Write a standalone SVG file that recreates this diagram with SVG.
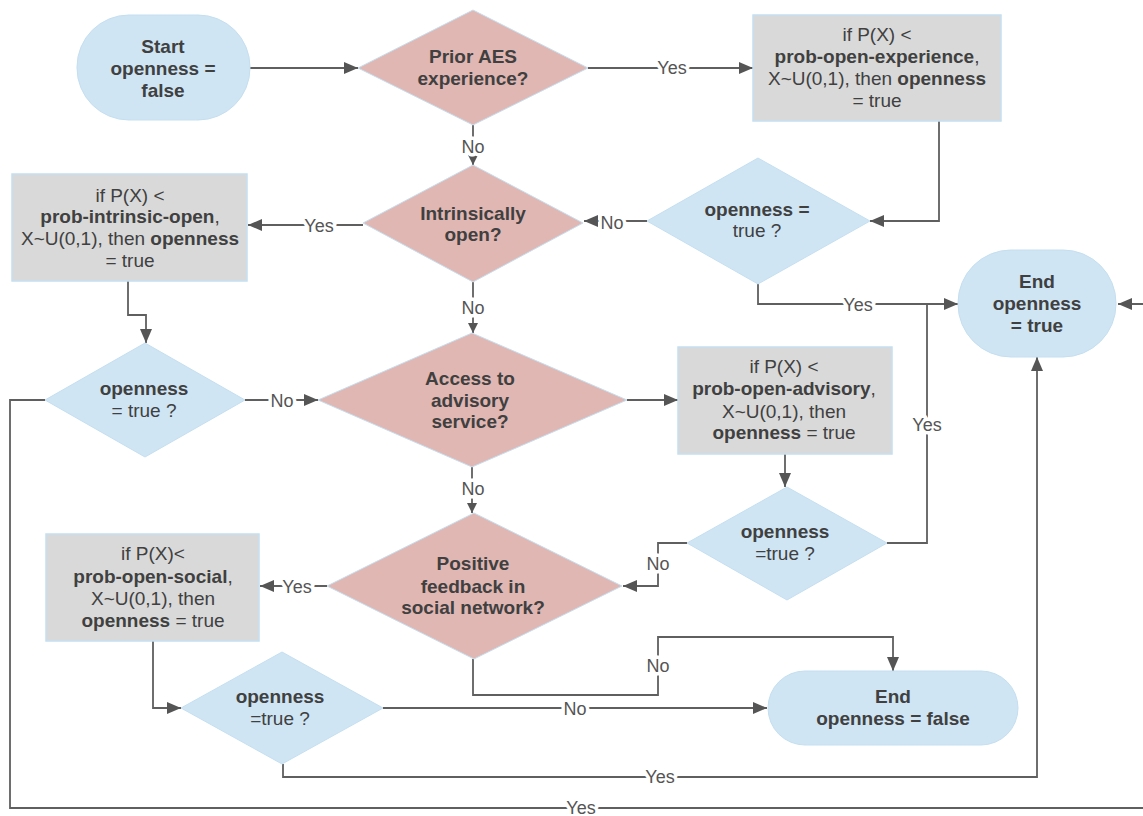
<svg xmlns="http://www.w3.org/2000/svg" width="1143" height="816" viewBox="0 0 1143 816">
<style>
.term{fill:#cfe5f4;stroke:#c4dff0;stroke-width:1}
.dec{fill:#e0b7b3;stroke:#c4dff0;stroke-width:1}
.chk{fill:#cfe5f4;stroke:#c4dff0;stroke-width:1}
.proc{fill:#d9d9d9;stroke:#c4dff0;stroke-width:1.5}
text{font-family:"Liberation Sans",Arial,sans-serif;fill:#404040}
.t{font-size:19px;text-anchor:middle}
.b{font-weight:bold}
.c{fill:none;stroke:#5f5f5f;stroke-width:1.8}
.lbl{font-size:18px;text-anchor:middle;fill:#555;stroke:#fff;stroke-width:7;paint-order:stroke;stroke-linejoin:round}
</style>
<defs>
<marker id="a" markerUnits="userSpaceOnUse" markerWidth="14" markerHeight="12" refX="14" refY="6" orient="auto"><path d="M0,0L14,6L0,12z" fill="#555"/></marker>
<marker id="s" markerUnits="userSpaceOnUse" markerWidth="10" markerHeight="10" refX="10" refY="5" orient="auto"><path d="M0,0L10,5L0,10z" fill="#555"/></marker>
</defs>
<g id="connectors">
<path class="c" d="M250,68H358" marker-end="url(#a)"/>
<path class="c" d="M588,68H753" marker-end="url(#a)"/>
<path class="c" d="M473,125V165" marker-end="url(#s)"/>
<path class="c" d="M939,121V221H870" marker-end="url(#a)"/>
<path class="c" d="M647,221H584" marker-end="url(#a)"/>
<path class="c" d="M363,225H248" marker-end="url(#a)"/>
<path class="c" d="M473,282V333" marker-end="url(#s)"/>
<path class="c" d="M128,281V315H146V343" marker-end="url(#a)"/>
<path class="c" d="M758,284V304H958" marker-end="url(#a)"/>
<path class="c" d="M887,543H927V304"/>
<path class="c" d="M245,400H318" marker-end="url(#a)"/>
<path class="c" d="M627,400H678" marker-end="url(#a)"/>
<path class="c" d="M785,454V487" marker-end="url(#a)"/>
<path class="c" d="M472,467V513" marker-end="url(#s)"/>
<path class="c" d="M687,543H658V586H623" marker-end="url(#a)"/>
<path class="c" d="M327,586H260" marker-end="url(#a)"/>
<path class="c" d="M473,659V695H658V637H893V671" marker-end="url(#a)"/>
<path class="c" d="M153,641V708H181" marker-end="url(#a)"/>
<path class="c" d="M383,708H767" marker-end="url(#a)"/>
<path class="c" d="M283,764V777H1037V357" marker-end="url(#a)"/>
<path class="c" d="M45,400H10V808H1165V304H1118" marker-end="url(#a)"/>
<text class="lbl" x="672" y="74">Yes</text>
<text class="lbl" x="473" y="153">No</text>
<text class="lbl" x="612" y="229">No</text>
<text class="lbl" x="319" y="232">Yes</text>
<text class="lbl" x="473" y="314">No</text>
<text class="lbl" x="282" y="407">No</text>
<text class="lbl" x="858" y="311">Yes</text>
<text class="lbl" x="927" y="431">Yes</text>
<text class="lbl" x="473" y="495">No</text>
<text class="lbl" x="658" y="570">No</text>
<text class="lbl" x="297" y="593">Yes</text>
<text class="lbl" x="658" y="672">No</text>
<text class="lbl" x="575" y="715">No</text>
<text class="lbl" x="660" y="783">Yes</text>
<text class="lbl" x="581" y="814">Yes</text>
</g>
<g id="start">
<rect class="term" x="77" y="15" width="173" height="105" rx="52"/>
<text class="t b"><tspan x="163" y="53">Start</tspan><tspan x="163" y="75">openness =</tspan><tspan x="163" y="97">false</tspan></text>
</g>
<g id="prior-aes">
<path class="dec" d="M473,10L588,68L473,125L358,68z"/>
<text class="t b"><tspan x="473" y="63">Prior AES</tspan><tspan x="473" y="85">experience?</tspan></text>
</g>
<g id="proc-experience">
<rect class="proc" x="753" y="15" width="248" height="106"/>
<text class="t"><tspan x="877" y="41">if P(X) &lt;</tspan><tspan x="877" y="63"><tspan class="b">prob-open-experience</tspan>,</tspan><tspan x="877" y="85">X~U(0,1), then <tspan class="b">openness</tspan></tspan><tspan x="877" y="107">= true</tspan></text>
</g>
<g id="check-1">
<path class="chk" d="M758,158L870,221L758,284L647,221z"/>
<text class="t"><tspan x="757" y="216" class="b">openness =</tspan><tspan x="757" y="237">true ?</tspan></text>
</g>
<g id="intrinsic">
<path class="dec" d="M473,165L583,223L473,282L363,223z"/>
<text class="t b"><tspan x="473" y="220">Intrinsically</tspan><tspan x="473" y="241">open?</tspan></text>
</g>
<g id="proc-intrinsic">
<rect class="proc" x="12" y="174" width="235" height="107"/>
<text class="t"><tspan x="130" y="202">if P(X) &lt;</tspan><tspan x="130" y="223"><tspan class="b">prob-intrinsic-open</tspan>,</tspan><tspan x="130" y="245">X~U(0,1), then <tspan class="b">openness</tspan></tspan><tspan x="130" y="267">= true</tspan></text>
</g>
<g id="check-2">
<path class="chk" d="M145,343L245,400L145,457L45,400z"/>
<text class="t"><tspan x="144" y="395" class="b">openness</tspan><tspan x="144" y="417">= true ?</tspan></text>
</g>
<g id="advisory">
<path class="dec" d="M472,333L627,400L472,467L318,400z"/>
<text class="t b"><tspan x="470" y="385">Access to</tspan><tspan x="470" y="407">advisory</tspan><tspan x="470" y="428">service?</tspan></text>
</g>
<g id="proc-advisory">
<rect class="proc" x="678" y="347" width="214" height="107"/>
<text class="t"><tspan x="784" y="373">if P(X) &lt;</tspan><tspan x="784" y="395"><tspan class="b">prob-open-advisory</tspan>,</tspan><tspan x="784" y="418">X~U(0,1), then</tspan><tspan x="784" y="439"><tspan class="b">openness</tspan> = true</tspan></text>
</g>
<g id="check-3">
<path class="chk" d="M787,487L887,543L787,600L687,543z"/>
<text class="t"><tspan x="785" y="538" class="b">openness</tspan><tspan x="785" y="560">=true ?</tspan></text>
</g>
<g id="end-true">
<rect class="term" x="958" y="250" width="158" height="107" rx="53"/>
<text class="t b"><tspan x="1037" y="288">End</tspan><tspan x="1037" y="310">openness</tspan><tspan x="1037" y="332">= true</tspan></text>
</g>
<g id="social">
<path class="dec" d="M474,513L622,586L474,659L327,586z"/>
<text class="t b"><tspan x="473" y="570">Positive</tspan><tspan x="473" y="593">feedback in</tspan><tspan x="473" y="614">social network?</tspan></text>
</g>
<g id="proc-social">
<rect class="proc" x="46" y="534" width="213" height="107"/>
<text class="t"><tspan x="153" y="560">if P(X)&lt;</tspan><tspan x="153" y="583"><tspan class="b">prob-open-social</tspan>,</tspan><tspan x="153" y="605">X~U(0,1), then</tspan><tspan x="153" y="627"><tspan class="b">openness</tspan> = true</tspan></text>
</g>
<g id="check-4">
<path class="chk" d="M282,652L383,708L282,764L181,708z"/>
<text class="t"><tspan x="280" y="703" class="b">openness</tspan><tspan x="280" y="725">=true ?</tspan></text>
</g>
<g id="end-false">
<rect class="term" x="768" y="671" width="250" height="74" rx="37"/>
<text class="t b"><tspan x="893" y="703">End</tspan><tspan x="893" y="725">openness = false</tspan></text>
</g>
</svg>
